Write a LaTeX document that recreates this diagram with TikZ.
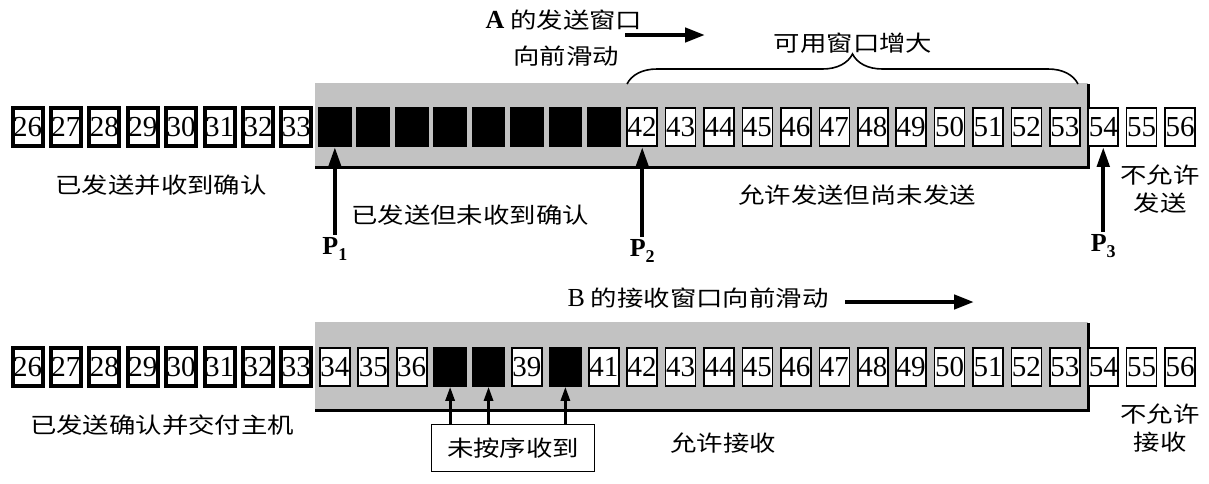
\documentclass[tikz,border=0pt]{standalone}
\usepackage{fontspec}
\setmainfont{Liberation Serif}
\newfontfamily\cjk[FakeStretch=1.2]{Noto Sans CJK SC}
\usetikzlibrary{arrows.meta,decorations.pathreplacing}
\tikzset{
  cell/.style={draw=black,line width=0.8pt,fill=white,minimum width=15pt,minimum height=19pt,inner sep=0pt,font=\fontsize{14.5}{14.5}\selectfont},
  oldcell/.style={cell,line width=2pt},
  blkcell/.style={cell,fill=black,minimum width=16pt},
  lbl/.style={font=\cjk\fontsize{11}{14}\selectfont,inner sep=0pt,align=center},
  plab/.style={font=\bfseries\fontsize{13}{13}\selectfont,inner sep=1pt},
  uparrow/.style={line width=2.2pt,-{Triangle[length=10pt,width=6pt]}},
  smallarrow/.style={line width=1.4pt,-{Triangle[length=7pt,width=4.5pt]}},
  bigarrow/.style={line width=2.2pt,-{Triangle[length=10pt,width=7pt]}},
  band/.style={fill=black!24},
  shadowline/.style={line width=1.5pt}
}
\begin{document}
\begin{tikzpicture}[x=0.5pt,y=-0.5pt]
\useasboundingbox (0,0) rectangle (1209,483);
% backgrounds
\fill[band] (315,83) rectangle (1088,167);
\draw[shadowline] (1088,84) -- (1088,167) -- (315,167);
\fill[band] (315,322) rectangle (1088,410);
\draw[shadowline] (1088,323) -- (1088,410) -- (315,410);
% top row
\foreach \i in {26,...,33} \node[oldcell] (t\i) at ({27.5+(\i-26)*38.42},127) {\i};
\foreach \i in {34,...,41} \node[blkcell] (t\i) at ({27.5+(\i-26)*38.42},127) {};
\foreach \i in {42,...,56} \node[cell] (t\i) at ({27.5+(\i-26)*38.42},127) {\i};
% bottom row
\foreach \i in {26,...,33} \node[oldcell] (b\i) at ({27.5+(\i-26)*38.42},367) {\i};
\foreach \i in {34,35,36,39,41,42,...,56} \node[cell] (b\i) at ({27.5+(\i-26)*38.42},367) {\i};
\foreach \i in {37,38,40} \node[blkcell] (b\i) at ({27.5+(\i-26)*38.42},367) {};
% top labels
\node[lbl] (ta) at (564,20) {{\rmfamily\bfseries\fontsize{13}{13}\selectfont A} 的发送窗口};
\node[lbl] (tb) at (566,56) {向前滑动};
\coordinate (a1) at (625,35);
\coordinate (a2) at (705,35);
\draw[bigarrow] (a1) -- (a2);
\coordinate (br1) at (627,84);
\coordinate (br2) at (1078,84);
\draw[line width=0.8pt,decorate,decoration={brace,amplitude=15pt,aspect=0.5}] (br1) -- (br2);
\node[lbl] (avail) at (853,43) {可用窗口增大};
\node[lbl] (l1) at (161,185) {已发送并收到确认};
\node[lbl] (l2) at (470,215) {已发送但未收到确认};
\node[lbl] (l3) at (857,195) {允许发送但尚未发送};
\node[lbl] (l4) at (1160,189) {不允许\\发送};
% pointers
\node[plab] (P1) at ({27.5+8*38.42},249) {P\raisebox{-0.55ex}{\fontsize{9}{9}\selectfont 1}};
\node[plab] (P2) at ({27.5+16*38.42},251) {P\raisebox{-0.55ex}{\fontsize{9}{9}\selectfont 2}};
\node[plab] (P3) at ({27.5+28*38.42},246) {P\raisebox{-0.55ex}{\fontsize{9}{9}\selectfont 3}};
\draw[uparrow] (P1.north) -- (t34.south);
\draw[uparrow] (P2.north) -- (t42.south);
\draw[uparrow] (P3.north) -- (t54.south);
% bottom labels
\node[lbl] (bb) at (698,298) {{\rmfamily\fontsize{13}{13}\selectfont B} 的接收窗口向前滑动};
\coordinate (c1) at (845,302);
\coordinate (c2) at (974,302);
\draw[bigarrow] (c1) -- (c2);
\node[lbl] (m1) at (162,425) {已发送确认并交付主机};
\node[lbl] (m2) at (723,443) {允许接收};
\node[lbl] (m3) at (1160,428) {不允许\\接收};
\node[lbl,draw,line width=0.8pt,minimum width=81.5pt,minimum height=23.5pt] (oos) at (513,448) {未按序收到};
\draw[smallarrow] (oos.north -| b37) -- (b37.south);
\draw[smallarrow] (oos.north -| b38) -- (b38.south);
\draw[smallarrow] (oos.north -| b40) -- (b40.south);
\end{tikzpicture}
\end{document}
